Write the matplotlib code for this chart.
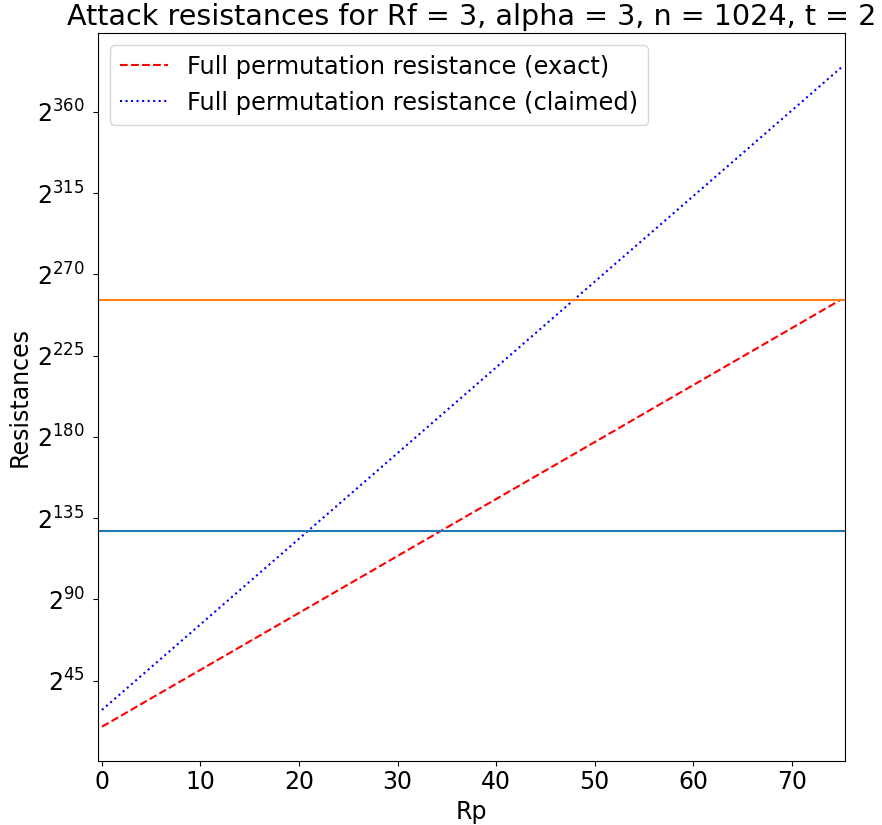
import matplotlib
matplotlib.use("Agg")
import matplotlib.pyplot as plt
from matplotlib.ticker import FixedLocator, FuncFormatter

# Data (log2 of resistances)
rp = [0, 25, 50, 75]
exact_log2 = [19.5, 98.3, 177.1, 256.0]
claimed_log2 = [28.8, 147.3, 265.9, 384.4]
security_level_low = 128
security_level_high = 256
ytick_exponents = [45, 90, 135, 180, 225, 270, 315, 360]

title = "Attack resistances for Rf = 3, alpha = 3, n = 1024, t = 2"

fig = plt.figure(figsize=(8.82, 8.25), dpi=100)
ax = fig.add_axes([98/882, 1 - 760.7/825, (845-98)/882, (760.7-33)/825])

ax.plot(rp, exact_log2, 'r--', label="Full permutation resistance (exact)")
ax.plot(rp, claimed_log2, 'b:', label="Full permutation resistance (claimed)")
ax.axhline(security_level_low, color='C0')
ax.axhline(security_level_high, color='C1')

ax.set_xlim(-0.4, 75.4)
ax.set_ylim(0.7, 403.6)
ax.yaxis.set_major_locator(FixedLocator(ytick_exponents))
ax.yaxis.set_major_formatter(FuncFormatter(lambda v, p: r"$\mathdefault{2^{%d}}$" % round(v)))

ax.tick_params(labelsize=17)
ax.tick_params(axis='y', pad=6)
ax.set_xlabel("Rp", fontsize=17)
ax.set_ylabel("Resistances", fontsize=17)
ax.set_title(title, fontsize=20.6)
ax.legend(loc="upper left", fontsize=17.4)

fig.savefig("out.png", dpi=100)
